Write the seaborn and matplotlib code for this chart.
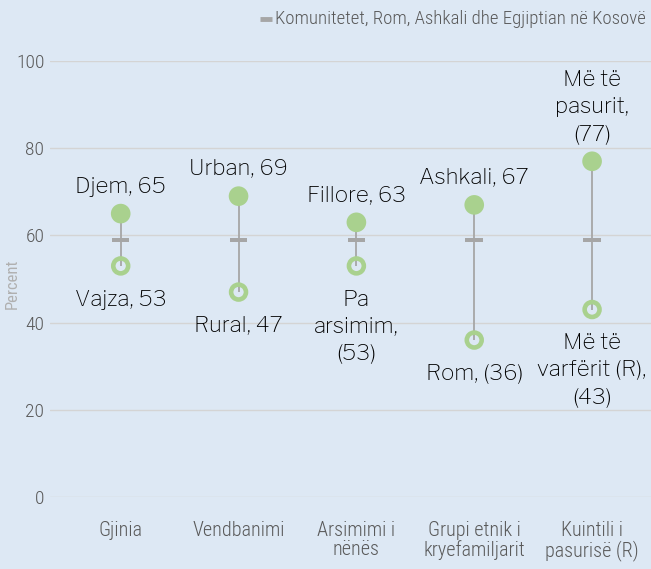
# %% Imports
import matplotlib.pyplot as plt
import numpy as np
import pandas as pd
import seaborn as sns
from matplotlib.lines import Line2D

# %% Data
categories = ["Gjinia", "Vendbanimi", "Arsimimi i\nnënës", "Grupi etnik i\nkryefamiljarit", "Kuintili i\npasurisë (R)"]
high_values = [65, 69, 63, 67, 77]
low_values = [53, 47, 53, 36, 43]
mean_values = [59, 59, 59, 59, 59]
high_labels = ["Djem, 65", "Urban, 69", "Fillore, 63", "Ashkali, 67", "Më të\npasurit,\n(77)"]
low_labels = ["Vajza, 53", "Rural, 47", "Pa\narsimim,\n(53)", "Rom, (36)", "Më të\nvarfërit (R),\n(43)"]
legend_label = "Komunitetet, Rom, Ashkali dhe Egjiptian në Kosovë"

df = pd.DataFrame({"cat": categories, "high": high_values, "low": low_values, "mean": mean_values})
df["x"] = np.arange(len(df))

# %% Style
BG = "#dde8f4"
GREEN = "#a9d18e"
GREY = "#a6a6a6"
TEXT_GREY = "#595959"
NARROW = ["Roboto Condensed", "DejaVu Sans"]
LABEL_FONT = ["Libre Franklin", "DejaVu Sans"]

sns.set_theme(style="white")
plt.rcParams["font.family"] = NARROW
plt.rcParams["font.weight"] = "light"

fig = plt.figure(figsize=(6.51, 5.69), dpi=100, facecolor=BG)
ax = fig.add_axes([50 / 651, 1 - 497 / 569, 1 - 50 / 651, (497 - 61) / 569])
ax.set_facecolor(BG)

# connecting lines
ax.vlines(df["x"], df["low"], df["high"], color=GREY, lw=1.3, zorder=2)

# mean dash
dash = [(-1, -0.24), (1, -0.24), (1, 0.24), (-1, 0.24), (-1, -0.24)]
sns.scatterplot(data=df, x="x", y="mean", marker=dash, s=160, color=GREY,
                edgecolor="none", ax=ax, zorder=3, legend=False)

# high (filled) and low (ring) points
sns.scatterplot(data=df, x="x", y="high", s=200, color=GREEN, edgecolor="none",
                ax=ax, zorder=4, legend=False)
sns.scatterplot(data=df, x="x", y="low", s=115, facecolor="none", edgecolor=GREEN,
                linewidth=3.3, ax=ax, zorder=4, legend=False)

for x, hv, hl, lv, ll in zip(df["x"], high_values, high_labels, low_values, low_labels):
    ax.annotate(hl, (x, hv), xytext=(0, 12), textcoords="offset points",
                ha="center", va="bottom", fontsize=16, color="black",
                family=LABEL_FONT, weight="normal", linespacing=1.45,
                annotation_clip=False)
    ax.annotate(ll, (x, lv), xytext=(0, -17), textcoords="offset points",
                ha="center", va="top", fontsize=16, color="black",
                family=LABEL_FONT, weight="normal", linespacing=1.45,
                annotation_clip=False)

# axes
ax.set_xlim(-0.6, 4.5)
ax.set_ylim(0, 100)
ax.set_yticks([0, 20, 40, 60, 80, 100])
ax.set_xticks(df["x"])
ax.set_xticklabels(categories, fontsize=14.5, color=TEXT_GREY, linespacing=1.0)
ax.tick_params(axis="y", labelsize=14, labelcolor=TEXT_GREY, length=0, pad=4)
ax.tick_params(axis="x", length=0, pad=17)
ax.grid(axis="y", color="#d4d4d4", lw=1)
ax.set_axisbelow(True)
sns.despine(ax=ax, left=True, bottom=True)
ax.set_xlabel("")
ax.set_ylabel("Percent", fontsize=12, color="#b0b0b0")
ax.yaxis.set_label_coords(-0.05, 0.49)

# legend
fig.add_artist(Line2D([260 / 651, 272 / 651], [1 - 19 / 569, 1 - 19 / 569],
                      color=GREY, lw=3.5, solid_capstyle="butt"))
fig.text(0.992, 1 - 19 / 569, legend_label, color=TEXT_GREY, fontsize=13.5,
         ha="right", va="center")

fig.savefig("out.png", dpi=100, facecolor=BG)
